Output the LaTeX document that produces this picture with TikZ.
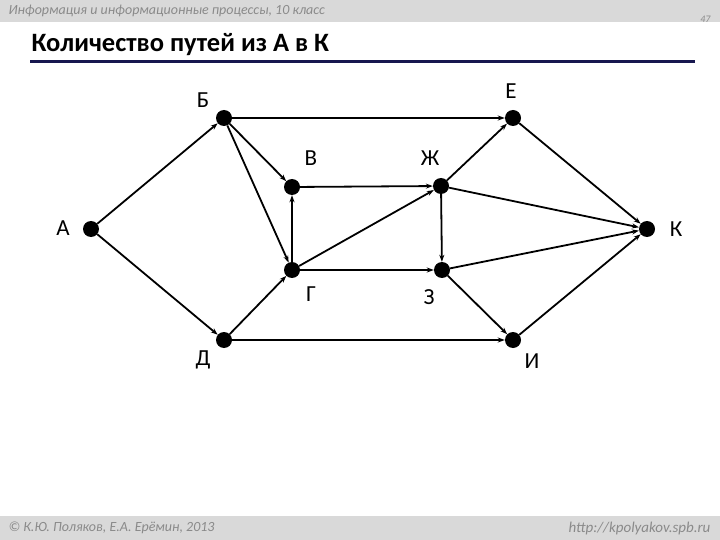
\documentclass[tikz,border=0pt]{standalone}
\usepackage{fontspec}
\setmainfont{Carlito}
\usepackage{xcolor}
\usepackage{tikz}
\usetikzlibrary{arrows.meta, positioning}

\definecolor{BarGray}{HTML}{D9D9D9}
\definecolor{NoteGray}{HTML}{8A8A8A}
\definecolor{RuleNavy}{HTML}{17174F}

\begin{document}
\begin{tikzpicture}[
        x=1pt, y=-1pt,
        vertex/.style={
            circle,
            fill=black,
            minimum size=16pt,
            inner sep=0pt
        },
        vlabel/.style={
            font=\fontsize{23}{25}\selectfont
        },
        note/.style={
            font=\itshape\fontsize{14}{16}\selectfont,
            text=NoteGray
        },
        arrow/.style={
            -{Stealth[length=7pt,width=5pt]},
            line width=1.8pt
        }
    ]
    \useasboundingbox (0,0) rectangle (720,540);
    \fill[white] (0,0) rectangle (720,540);

    % Header and footer
    \fill[BarGray] (0,0) rectangle (720,22);
    \fill[BarGray] (0,516) rectangle (720,540);
    \node[note, anchor=west] (course) at (5,11) {Информация и информационные процессы, 10 класс};
    \node[note, anchor=east, font=\itshape\fontsize{10}{12}\selectfont] (page) at (714,19) {47};
    \node[note, anchor=west] (authors) at (5,528) {© К.Ю. Поляков, Е.А. Ерёмин, 2013};
    \node[note, anchor=east, font=\itshape\fontsize{15}{17}\selectfont] (site) at (714,528) {http://kpolyakov.spb.ru};

    % Title
    \node[anchor=west, font=\bfseries\fontsize{26.5}{30}\selectfont] (title) at (28,45) {Количество путей из А в К};
    \fill[RuleNavy] (30,60.5) rectangle (695,63.5);

    % Vertices
    \node[vertex] (A) at (91,229) {};
    \node[vertex] (B) at (224,118) {};
    \node[vertex] (V) at (292,187) {};
    \node[vertex] (Zh) at (441,186) {};
    \node[vertex] (E) at (513,118) {};
    \node[vertex] (K) at (647,229) {};
    \node[vertex] (G) at (292,270) {};
    \node[vertex] (Z) at (442,270) {};
    \node[vertex] (D) at (224,340) {};
    \node[vertex] (I) at (513,340) {};

    % Labels
    \node[vlabel] (lA) at (63,228) {А};
    \node[vlabel] (lB) at (203,100) {Б};
    \node[vlabel] (lV) at (311,158) {В};
    \node[vlabel] (lZh) at (430,158) {Ж};
    \node[vlabel] (lE) at (511,91) {Е};
    \node[vlabel] (lK) at (676,229) {К};
    \node[vlabel] (lG) at (311,294) {Г};
    \node[vlabel] (lZ) at (429,297) {З};
    \node[vlabel] (lD) at (203,360) {Д};
    \node[vlabel] (lI) at (532,361) {И};

    % Arrows
    \draw[arrow] (A) -- (B);
    \draw[arrow] (A) -- (D);
    \draw[arrow] (B) -- (E);
    \draw[arrow] (B) -- (V);
    \draw[arrow] (B) -- (G);
    \draw[arrow] (V) -- (Zh);
    \draw[arrow] (G) -- (V);
    \draw[arrow] (G) -- (Zh);
    \draw[arrow] (G) -- (Z);
    \draw[arrow] (D) -- (G);
    \draw[arrow] (D) -- (I);
    \draw[arrow] (Zh) -- (E);
    \draw[arrow] (Zh) -- (Z);
    \draw[arrow] (Zh) -- (K);
    \draw[arrow] (E) -- (K);
    \draw[arrow] (Z) -- (K);
    \draw[arrow] (Z) -- (I);
    \draw[arrow] (I) -- (K);

\end{tikzpicture}
\end{document}
